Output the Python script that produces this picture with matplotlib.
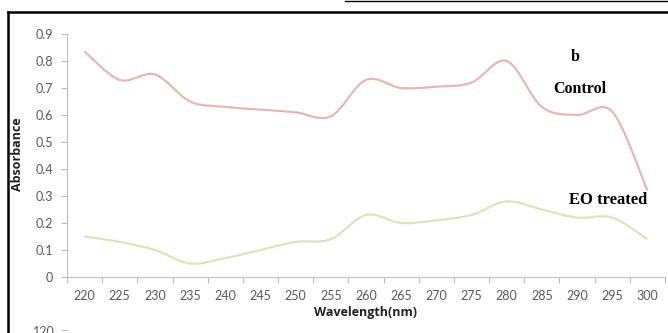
import numpy as np
import matplotlib
matplotlib.use("Agg")
import matplotlib.pyplot as plt
from matplotlib.path import Path
from matplotlib.patches import PathPatch
from matplotlib.lines import Line2D

wavelengths = [220, 225, 230, 235, 240, 245, 250, 255, 260, 265, 270, 275, 280, 285, 290, 295, 300]
control = [0.835, 0.73, 0.75, 0.65, 0.63, 0.62, 0.61, 0.595, 0.73, 0.70, 0.705, 0.72, 0.80, 0.63, 0.60, 0.612, 0.32]
eo_treated = [0.15, 0.13, 0.10, 0.05, 0.07, 0.10, 0.13, 0.14, 0.23, 0.20, 0.21, 0.23, 0.28, 0.25, 0.22, 0.22, 0.14]
yticks = [0, 0.1, 0.2, 0.3, 0.4, 0.5, 0.6, 0.7, 0.8, 0.9]
ytick_labels = ["0", "0.1", "0.2", "0.3", "0.4", "0.5", "0.6", "0.7", "0.8", "0.9"]

C_CONTROL = "#E8B7B3"
C_EO = "#D8E5BF"
GRAY = "#BFBFBF"
TXT = "#595959"


def smooth_path(xs, ys, t=1 / 6):
    xs = np.asarray(xs, float)
    ys = np.asarray(ys, float)
    pts = np.column_stack([xs, ys])
    n = len(pts)
    verts = [pts[0]]
    codes = [Path.MOVETO]
    for i in range(n - 1):
        p0 = pts[i - 1] if i > 0 else pts[i]
        p1 = pts[i]
        p2 = pts[i + 1]
        p3 = pts[i + 2] if i + 2 < n else pts[i + 1]
        c1 = p1 + (p2 - p0) * t
        c2 = p2 - (p3 - p1) * t
        verts += [c1, c2, p2]
        codes += [Path.CURVE4] * 3
    return Path(verts, codes)


fig = plt.figure(figsize=(6.68, 3.33), dpi=100)
ax = fig.add_axes([67 / 668, 1 - 277 / 333, (665 - 67) / 668, (277 - 34) / 333])

x = np.arange(len(wavelengths))
for vals, col in [(control, C_CONTROL), (eo_treated, C_EO)]:
    ax.add_patch(PathPatch(smooth_path(x, vals), facecolor="none", edgecolor=col, lw=1.6))

ax.set_xlim(-0.5, len(wavelengths) - 0.5)
ax.set_ylim(0, 0.9)
ax.set_yticks(yticks)
ax.set_yticklabels(ytick_labels)
ax.set_xticks(x)
ax.set_xticklabels([str(w) for w in wavelengths])
ax.set_xticks(np.arange(-0.5, len(wavelengths), 1.0), minor=True)
ax.tick_params(axis="x", which="major", length=0, pad=9, labelsize=9, labelcolor=TXT)
ax.tick_params(axis="x", which="minor", length=4, color=GRAY, width=0.8)
ax.tick_params(axis="y", which="major", length=4, color=GRAY, width=0.8, labelsize=9, labelcolor=TXT, pad=6)
for lab in ax.get_xticklabels() + ax.get_yticklabels():
    lab.set_family("Lato")

for s in ["top", "right"]:
    ax.spines[s].set_visible(False)
for s in ["left", "bottom"]:
    ax.spines[s].set_color(GRAY)
    ax.spines[s].set_linewidth(0.8)

ax.set_xlabel("Wavelength(nm)", fontsize=9, fontweight="bold", family="Open Sans", labelpad=3, color="#222222")
ax.set_ylabel("Absorbance", fontsize=9, fontweight="bold", family="Open Sans", labelpad=3, color="#222222")
ax.yaxis.set_label_coords(-0.072, 0.505)

fig.text(575 / 668, 1 - 57 / 333, "b", fontsize=11.5, fontweight="bold", family="Liberation Serif", ha="center", va="center")
fig.text(580 / 668, 1 - 89 / 333, "Control", fontsize=11.5, fontweight="bold", family="Liberation Serif", ha="center", va="center")
fig.text(608 / 668, 1 - 200 / 333, "EO treated", fontsize=12, fontweight="bold", family="Liberation Serif", ha="center", va="center")

# frame of the figure panel
fig.add_artist(Line2D([8 / 668, 8 / 668], [0, 1 - 12 / 333], color="black", lw=1.8, transform=fig.transFigure))
fig.add_artist(Line2D([8 / 668, 1], [1 - 12 / 333, 1 - 12 / 333], color="black", lw=1.8, transform=fig.transFigure))
fig.add_artist(Line2D([345 / 668, 1], [1 - 1 / 333, 1 - 1 / 333], color="black", lw=1.0, transform=fig.transFigure))
# cut-off label and tick of the next panel
fig.text(44 / 668, 1 - 332 / 333, "120", fontsize=9, family="Lato", color=TXT, ha="center", va="center")
fig.add_artist(Line2D([62 / 668, 67 / 668], [1 - 330 / 333, 1 - 330 / 333], color=GRAY, lw=0.8, transform=fig.transFigure))

fig.savefig("out.png", dpi=100)
